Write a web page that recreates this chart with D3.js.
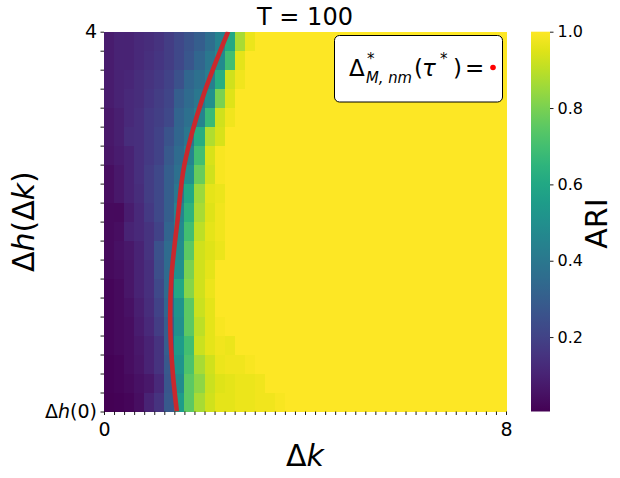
<!DOCTYPE html>
<html>
<head>
<meta charset="utf-8">
<script src="https://cdn.jsdelivr.net/npm/d3@7"></script>
<style>
  body { margin: 0; background: #fff; }
  svg { display: block; font-family: "DejaVu Sans", sans-serif; }
</style>
</head>
<body>
<svg id="chart" width="620" height="478"></svg>
<script>
// ARI x 100, one row per delta-h band, listed from top (4) to bottom (dh(0)), 40 delta-k bins from 0 to 8
let ariRows = [
  [8,10,10,12,13,15,18,22,26,30, 36,45,60,87,97,100,100,100,100,100, 100,100,100,100,100,100,100,100,100,100, 100,100,100,100,100,100,100,100,100,100],
  [8,10,10,12,14,16,18,22,27,33, 40,48,70,96,100,100,100,100,100,100, 100,100,100,100,100,100,100,100,100,100, 100,100,100,100,100,100,100,100,100,100],
  [8,10,11,13,15,17,20,25,33,37, 43,63,93,98,100,100,100,100,100,100, 100,100,100,100,100,100,100,100,100,100, 100,100,100,100,100,100,100,100,100,100],
  [8,10,12,13,16,18,21,30,35,40, 50,80,95,100,100,100,100,100,100,100, 100,100,100,100,100,100,100,100,100,100, 100,100,100,100,100,100,100,100,100,100],
  [7,9,12,14,17,19,22,32,37,45, 68,93,98,100,100,100,100,100,100,100, 100,100,100,100,100,100,100,100,100,100, 100,100,100,100,100,100,100,100,100,100],
  [7,9,13,14,17,20,26,33,40,62, 88,94,100,100,100,100,100,100,100,100, 100,100,100,100,100,100,100,100,100,100, 100,100,100,100,100,100,100,100,100,100],
  [6,8,10,14,17,20,28,35,45,70, 94,99,100,100,100,100,100,100,100,100, 100,100,100,100,100,100,100,100,100,100, 100,100,100,100,100,100,100,100,100,100],
  [4,7,10,14,18,22,30,37,50,77, 93,99,100,100,100,100,100,100,100,100, 100,100,100,100,100,100,100,100,100,100, 100,100,100,100,100,100,100,100,100,100],
  [4,7,10,13,18,22,30,40,60,85, 96,97,100,100,100,100,100,100,100,100, 100,100,100,100,100,100,100,100,100,100, 100,100,100,100,100,100,100,100,100,100],
  [3,3,8,12,17,22,30,45,65,87, 95,98,100,100,100,100,100,100,100,100, 100,100,100,100,100,100,100,100,100,100, 100,100,100,100,100,100,100,100,100,100],
  [3,4,10,12,15,20,32,47,70,90, 96,98,100,100,100,100,100,100,100,100, 100,100,100,100,100,100,100,100,100,100, 100,100,100,100,100,100,100,100,100,100],
  [3,5,7,10,15,25,35,48,75,93, 95,97,100,100,100,100,100,100,100,100, 100,100,100,100,100,100,100,100,100,100, 100,100,100,100,100,100,100,100,100,100],
  [3,4,6,10,14,24,35,50,80,93, 96,100,100,100,100,100,100,100,100,100, 100,100,100,100,100,100,100,100,100,100, 100,100,100,100,100,100,100,100,100,100],
  [2,3,6,10,14,22,35,60,82,93, 97,100,100,100,100,100,100,100,100,100, 100,100,100,100,100,100,100,100,100,100, 100,100,100,100,100,100,100,100,100,100],
  [2,3,5,9,13,20,33,52,75,92, 96,100,100,100,100,100,100,100,100,100, 100,100,100,100,100,100,100,100,100,100, 100,100,100,100,100,100,100,100,100,100],
  [2,3,4,8,12,18,30,50,75,90, 96,99,100,100,100,100,100,100,100,100, 100,100,100,100,100,100,100,100,100,100, 100,100,100,100,100,100,100,100,100,100],
  [2,3,4,7,10,15,30,55,70,92, 96,98,97,100,100,100,100,100,100,100, 100,100,100,100,100,100,100,100,100,100, 100,100,100,100,100,100,100,100,100,100],
  [1,2,4,6,10,15,28,52,72,87, 93,97,98,98,99,100,100,100,100,100, 100,100,100,100,100,100,100,100,100,100, 100,100,100,100,100,100,100,100,100,100],
  [1,2,3,5,7,12,27,48,75,83, 92,95,96,97,97,98,100,100,100,100, 100,100,100,100,100,100,100,100,100,100, 100,100,100,100,100,100,100,100,100,100],
  [0.5,1,2,4,10,15,28,55,75,87, 93,96,96,97,97,98,98,99,100,100, 100,100,100,100,100,100,100,100,100,100, 100,100,100,100,100,100,100,100,100,100]
];

// red boundary curve: delta-k position against row height (0 = dh(0), 20 = 4)
let curveRow = [0, 2, 4.3, 7, 10, 13, 16.5, 20];
let curveDk = [1.45, 1.37, 1.32, 1.34, 1.46, 1.60, 1.96, 2.47];

let colorbarTicks = [0.2, 0.4, 0.6, 0.8, 1.0];
let dkDomain = [0, 8];
let titleText = 'T = 100';

let svg = d3.select('#chart');
let plot = {left: 104, right: 506, top: 31.7, bottom: 411.5};
let cbar = {left: 531, right: 550};
let nRows = ariRows.length;
let nCols = ariRows[0].length;

let allVals = [].concat.apply([], ariRows).map(function(v) { return v / 100; });
let vmin = d3.min(allVals);
let color = d3.scaleSequential(d3.interpolateViridis).domain([vmin, 1]);

let xBand = d3.scaleBand().domain(d3.range(nCols)).range([plot.left, plot.right]);
let yBand = d3.scaleBand().domain(d3.range(nRows)).range([plot.top, plot.bottom]);
let xLin = d3.scaleLinear().domain(dkDomain).range([plot.left, plot.right]);
let yLin = d3.scaleLinear().domain([0, nRows]).range([plot.bottom, plot.top]);

// heatmap cells
let cells = [];
ariRows.forEach(function(row, r) {
    row.forEach(function(v, c) { cells.push({r: r, c: c, v: v / 100}); });
});
svg.append('g').attr('class', 'cells')
    .attr('shape-rendering', 'crispEdges')
    .selectAll('rect').data(cells).enter().append('rect')
    .attr('x', function(d) { return xBand(d.c); })
    .attr('y', function(d) { return yBand(d.r); })
    .attr('width', xBand.bandwidth() + 0.6)
    .attr('height', yBand.bandwidth() + 0.6)
    .attr('fill', function(d) { return color(d.v); });

// boundary curve
svg.append('clipPath').attr('id', 'plotClip')
    .append('rect')
    .attr('x', plot.left).attr('y', plot.top)
    .attr('width', plot.right - plot.left).attr('height', plot.bottom - plot.top);

let curvePts = curveRow.map(function(r, i) { return {row: r, dk: curveDk[i]}; });
let line = d3.line()
    .x(function(d) { return xLin(d.dk); })
    .y(function(d) { return yLin(d.row); })
    .curve(d3.curveCatmullRom.alpha(0.5));
svg.append('path')
    .datum(curvePts)
    .attr('clip-path', 'url(#plotClip)')
    .attr('d', line)
    .attr('fill', 'none')
    .attr('stroke', '#c9282d')
    .attr('stroke-width', 4.6);

// axes
let xAxis = d3.axisBottom(xLin)
    .tickValues(d3.range(nCols + 1).map(function(i) { return dkDomain[0] + i * (dkDomain[1] - dkDomain[0]) / nCols; }))
    .tickSize(3.5).tickPadding(8)
    .tickFormat(function(d, i) { return i === 0 ? String(dkDomain[0]) : (i === nCols ? String(dkDomain[1]) : ''); });
let gx = svg.append('g').attr('transform', 'translate(0,' + plot.bottom + ')').call(xAxis);

let yAxis = d3.axisLeft(yLin)
    .tickValues(d3.range(nRows + 1))
    .tickSize(3.5).tickPadding(3.5)
    .tickFormat(function(d) { return d === nRows ? '4' : ''; });
let gy = svg.append('g').attr('transform', 'translate(' + plot.left + ',0)').call(yAxis);

[gx, gy].forEach(function(g) {
    g.select('.domain').remove();
    g.selectAll('line').attr('stroke', '#000').attr('stroke-width', 0.9);
    g.selectAll('text').attr('fill', '#000').style('font-size', '19px').style('font-family', '"DejaVu Sans", sans-serif');
});

// dh(0) label at the bottom tick
let bottomLabel = gy.selectAll('.tick').filter(function(d) { return d === 0; }).select('text');
bottomLabel.append('tspan').text('Δ');
bottomLabel.append('tspan').attr('font-style', 'italic').text('h');
bottomLabel.append('tspan').text('(0)');

// colorbar
let grad = svg.append('defs').append('linearGradient')
    .attr('id', 'cbGrad').attr('x1', 0).attr('y1', 1).attr('x2', 0).attr('y2', 0);
grad.selectAll('stop').data(d3.range(0, 1.0001, 0.05)).enter().append('stop')
    .attr('offset', function(t) { return t; })
    .attr('stop-color', function(t) { return color(vmin + t * (1 - vmin)); });

let cScale = d3.scaleLinear().domain([vmin, 1]).range([plot.bottom, plot.top]);
svg.append('rect')
    .attr('x', cbar.left).attr('y', plot.top)
    .attr('width', cbar.right - cbar.left).attr('height', plot.bottom - plot.top)
    .attr('fill', 'url(#cbGrad)');

let gc = svg.append('g').attr('transform', 'translate(' + cbar.right + ',0)')
    .call(d3.axisRight(cScale).tickValues(colorbarTicks).tickFormat(d3.format('.1f')).tickSize(3.5).tickPadding(4));
gc.select('.domain').remove();
gc.selectAll('line').attr('stroke', '#000').attr('stroke-width', 0.9);
gc.selectAll('text').attr('fill', '#000').style('font-size', '16px').style('font-family', '"DejaVu Sans", sans-serif');

svg.append('text')
    .attr('transform', 'translate(607,' + ((plot.top + plot.bottom) / 2 + 2) + ') rotate(-90)')
    .attr('text-anchor', 'middle')
    .style('font-size', '30px')
    .text('ARI');

// title
svg.append('text')
    .attr('x', (plot.left + plot.right) / 2).attr('y', 25)
    .attr('text-anchor', 'middle')
    .style('font-size', '24px')
    .text(titleText);

// axis labels
let xl = svg.append('text')
    .attr('x', (plot.left + plot.right) / 2).attr('y', 466)
    .attr('text-anchor', 'middle')
    .style('font-size', '30px');
xl.append('tspan').text('Δ');
xl.append('tspan').attr('font-style', 'italic').text('k');

let yl = svg.append('text')
    .attr('transform', 'translate(34,' + ((plot.top + plot.bottom) / 2) + ') rotate(-90)')
    .attr('text-anchor', 'middle')
    .style('font-size', '30px');
yl.append('tspan').text('Δ');
yl.append('tspan').attr('font-style', 'italic').text('h');
yl.append('tspan').text('(Δ');
yl.append('tspan').attr('font-style', 'italic').text('k');
yl.append('tspan').text(')');

// legend box
let lg = svg.append('g').attr('class', 'legend');
lg.append('rect')
    .attr('x', 334.5).attr('y', 35.5).attr('width', 168).attr('height', 66.5)
    .attr('rx', 5).attr('ry', 5)
    .attr('fill', '#fff').attr('stroke', '#000').attr('stroke-width', 1);
let big = '23px', small = '15px';
lg.append('text').attr('x', 349).attr('y', 76).style('font-size', big).text('Δ');
lg.append('text').attr('x', 367).attr('y', 64).style('font-size', small).text('*');
lg.append('text').attr('x', 366).attr('y', 83).style('font-size', small).attr('font-style', 'italic')
    .attr('textLength', 46).attr('lengthAdjust', 'spacingAndGlyphs').text('M, nm');
lg.append('text').attr('x', 414).attr('y', 76).style('font-size', big).text('(');
lg.append('text').attr('x', 422).attr('y', 76).style('font-size', big).attr('font-style', 'italic').text('τ');
lg.append('text').attr('x', 440).attr('y', 64).style('font-size', small).text('*');
lg.append('text').attr('x', 453).attr('y', 76).style('font-size', big).text(')');
lg.append('text').attr('x', 465).attr('y', 76).style('font-size', big).text('=');
lg.append('circle').attr('cx', 493).attr('cy', 67.5).attr('r', 2.8).attr('fill', '#ff0000');
</script>
</body>
</html>
